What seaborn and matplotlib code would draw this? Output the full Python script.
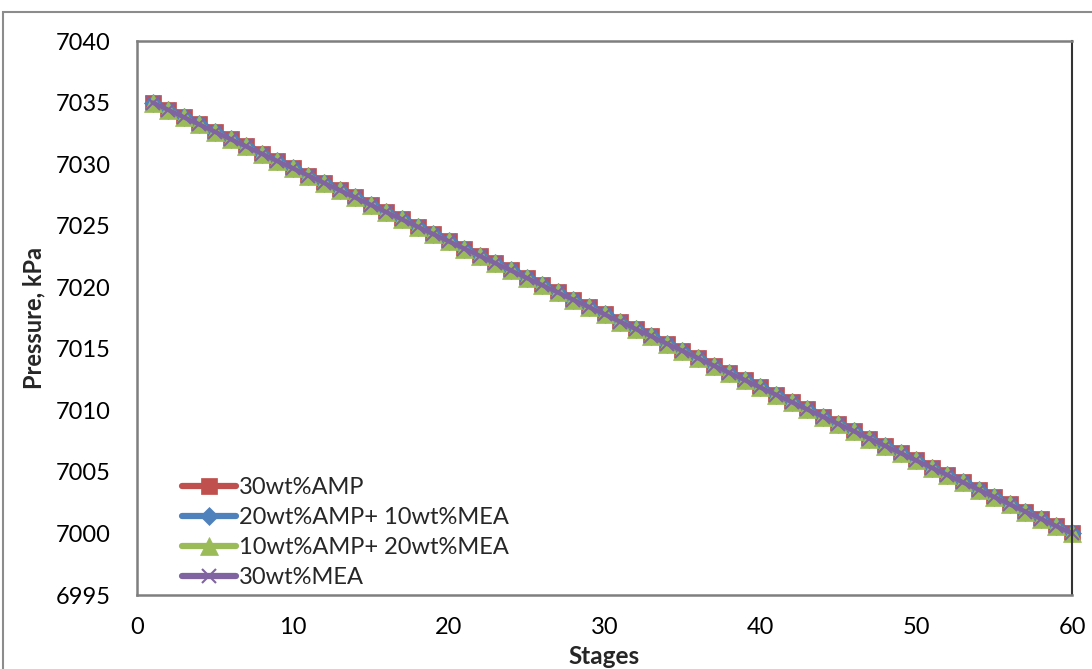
import matplotlib
matplotlib.use("Agg")
import matplotlib.pyplot as plt
from matplotlib.patches import Rectangle
import seaborn as sns
import pandas as pd

# Stage numbers along the column
stages = list(range(1, 61))

# Column pressure profile (kPa) per stage
pressure_30amp = [
    7035.00, 7034.41, 7033.81, 7033.22, 7032.63, 7032.03, 7031.44, 7030.85, 7030.25, 7029.66,
    7029.07, 7028.47, 7027.88, 7027.29, 7026.69, 7026.10, 7025.51, 7024.92, 7024.32, 7023.73,
    7023.14, 7022.54, 7021.95, 7021.36, 7020.76, 7020.17, 7019.58, 7018.98, 7018.39, 7017.80,
    7017.20, 7016.61, 7016.02, 7015.42, 7014.83, 7014.24, 7013.64, 7013.05, 7012.46, 7011.86,
    7011.27, 7010.68, 7010.08, 7009.49, 7008.90, 7008.31, 7007.71, 7007.12, 7006.53, 7005.93,
    7005.34, 7004.75, 7004.15, 7003.56, 7002.97, 7002.37, 7001.78, 7001.19, 7000.59, 7000.00,
]
pressure_20amp_10mea = list(pressure_30amp)
pressure_10amp_20mea = list(pressure_30amp)
pressure_30mea = list(pressure_30amp)

series_names = ["30wt%AMP", "20wt%AMP+ 10wt%MEA", "10wt%AMP+ 20wt%MEA", "30wt%MEA"]
series_values = [pressure_30amp, pressure_20amp_10mea, pressure_10amp_20mea, pressure_30mea]

x_ticks = [0, 10, 20, 30, 40, 50, 60]
y_ticks = [6995, 7000, 7005, 7010, 7015, 7020, 7025, 7030, 7035, 7040]

colors = ["#C0504D", "#4F81BD", "#9BBB59", "#8064A2"]
markers = ["s", "D", "^", "x"]
msizes = [12, 9.5, 12.5, 10.5]

sns.set_theme(style="white")
plt.rcParams["font.family"] = ["Lato", "DejaVu Sans"]

W, H = 1092, 669
fig = plt.figure(figsize=(W / 100, H / 100), dpi=100)
fig.patch.set_facecolor("white")
fig.patches.append(Rectangle((3 / W, -0.1), 1.2, 1 - 12 / H + 0.1, transform=fig.transFigure,
                             fill=False, edgecolor="#8c8c8c", linewidth=1.5))

ax = fig.add_axes([137 / W, 1 - 595 / H, (1072 - 137) / W, (595 - 41) / H])

for name, vals, c, m, ms in zip(series_names, series_values, colors, markers, msizes):
    df = pd.DataFrame({"Stages": stages, "Pressure": vals})
    sns.lineplot(data=df, x="Stages", y="Pressure", ax=ax, color=c, marker=m,
                 markersize=ms, markeredgecolor=c, markeredgewidth=1.5 if m == "x" else 0.5,
                 linewidth=3.2, label=name, clip_on=False)

ax.set_xlim(0, 60)
ax.set_ylim(6995, 7040)
ax.set_xticks(x_ticks)
ax.set_yticks(y_ticks)
ax.tick_params(axis="both", length=0, labelsize=17, colors="black")
ax.tick_params(axis="y", pad=19)
ax.tick_params(axis="x", pad=16)

for side in ["left", "bottom", "top"]:
    ax.spines[side].set_color("#7f7f7f")
    ax.spines[side].set_linewidth(1.8)
ax.spines["right"].set_color("#333333")
ax.spines["right"].set_linewidth(1.5)

ax.set_xlabel("Stages", fontsize=17.5, fontweight="bold", va="center")
ax.set_ylabel("Pressure, kPa", fontsize=17, fontweight="bold", va="center")
ax.xaxis.set_label_coords(0.5, (595 - 657) / 554)
ax.yaxis.set_label_coords((34 - 137) / 935, 0.5)

leg = ax.legend(loc="lower left", bbox_to_anchor=(0.038, -0.004), frameon=False, fontsize=17,
                handlelength=2.3, handletextpad=0.1, labelspacing=0.38, borderaxespad=0.0)
for line in leg.get_lines():
    line.set_linewidth(4.5)

fig.savefig("out.png", dpi=100)
